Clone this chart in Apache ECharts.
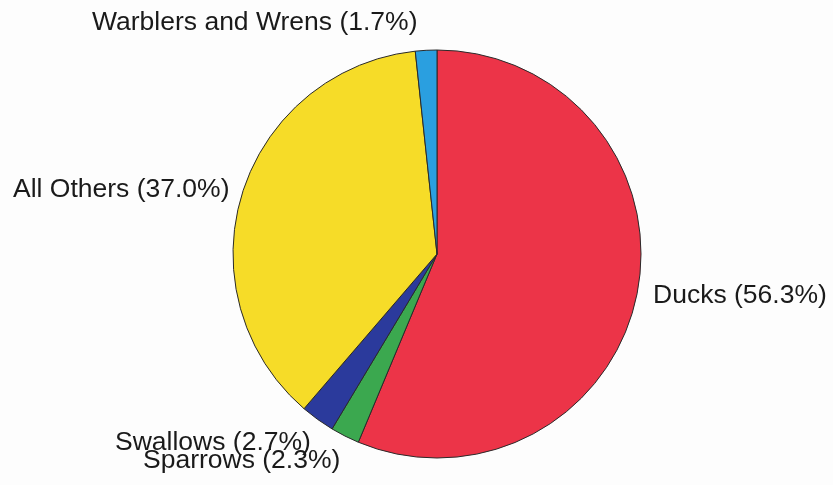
<!DOCTYPE html>
<html><head><meta charset="utf-8">
<script src="https://cdn.jsdelivr.net/npm/echarts@6/dist/echarts.min.js"></script>
<style>html,body{margin:0;padding:0;background:#fdfdfd}#c{width:833px;height:485px}</style>
</head><body><div id="c"></div>
<script>
const categories = ["Ducks", "Sparrows", "Swallows", "All Others", "Warblers and Wrens"];
const values = [56.3, 2.3, 2.7, 37.0, 1.7];
const colors = ["#ec3448", "#3ba84f", "#2b3a9c", "#f6dc28", "#2a9fe0"];
// label anchor positions (left x, middle y) in pixels
const labelPos = [[653, 296], [143, 461], [115, 443], [13, 190], [92, 23]];

const chart = echarts.init(document.getElementById('c'));
chart.setOption({
  backgroundColor: '#fdfdfd',
  animation: false,
  series: [{
    type: 'pie',
    center: [437, 254],
    radius: 204,
    startAngle: 90,
    clockwise: true,
    data: categories.map((n, i) => ({ name: n, value: values[i], itemStyle: { color: colors[i] } })),
    itemStyle: { borderColor: '#2a2a2a', borderWidth: 1 },
    label: {
      show: true,
      position: 'outside',
      formatter: p => p.name + ' (' + p.value.toFixed(1) + '%)',
      fontFamily: 'Liberation Sans, Arial, sans-serif',
      fontSize: 26.5,
      color: '#1a1a1a',
      overflow: 'none',
      width: 400
    },
    labelLine: { show: false },
    labelLayout: p => ({ x: labelPos[p.dataIndex][0], y: labelPos[p.dataIndex][1], align: 'left', verticalAlign: 'middle', hideOverlap: false, moveOverlap: null }),
    emphasis: { disabled: true }
  }]
});
</script></body></html>
